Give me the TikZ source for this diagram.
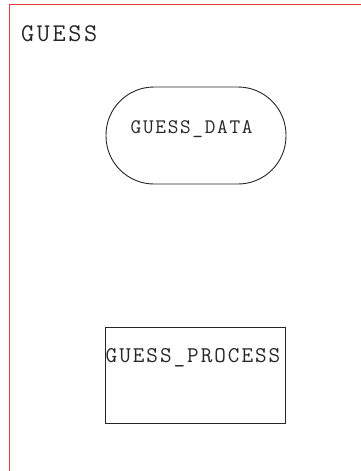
\documentclass[tikz,border=0pt]{standalone}
\usepackage{fontspec}
\definecolor{framered}{HTML}{E03C3C}
\newcommand{\lsA}{\kern2.6pt}
\newcommand{\lsB}{\kern1.7pt}
\newcommand{\lsC}{\kern2.0pt}
\begin{document}
\begin{tikzpicture}[x=1pt,y=1pt,
  lbl/.style={inner sep=0pt, text=black!85},
  shp/.style={draw=black!85, line width=0.9pt}]
\useasboundingbox (0,0) rectangle (361,-471);
\coordinate (fbl) at (9.5,-475);
\coordinate (ftl) at (9.5,-4);
\coordinate (ftr) at (365,-4);
\draw[framered, line width=1pt] (fbl) -- (ftl) -- (ftr);
\node[lbl, font=\fontsize{25.5}{28}\ttfamily, anchor=base west] (title) at (21,-41.7) {G\lsA U\lsA E\lsA S\lsA S};
\node[shp, rounded corners=48pt, minimum width=180pt, minimum height=97pt, inner sep=0pt] (data) at (196,-135.5) {};
\node[lbl, font=\fontsize{20.7}{23}\ttfamily, anchor=base west] (datalbl) at (130.5,-133.3) {G\lsB U\lsB E\lsB S\lsB S\lsB\_\lsB D\lsB A\lsB T\lsB A};
\node[shp, minimum width=180pt, minimum height=95.5pt, inner sep=0pt] (proc) at (195,-375.4) {};
\node[lbl, font=\fontsize{22.5}{25}\ttfamily, anchor=base west] (proclbl) at (105.5,-362.3) {G\lsC U\lsC E\lsC S\lsC S\lsC\_\lsC P\lsC R\lsC O\lsC C\lsC E\lsC S\lsC S};
\end{tikzpicture}
\end{document}
